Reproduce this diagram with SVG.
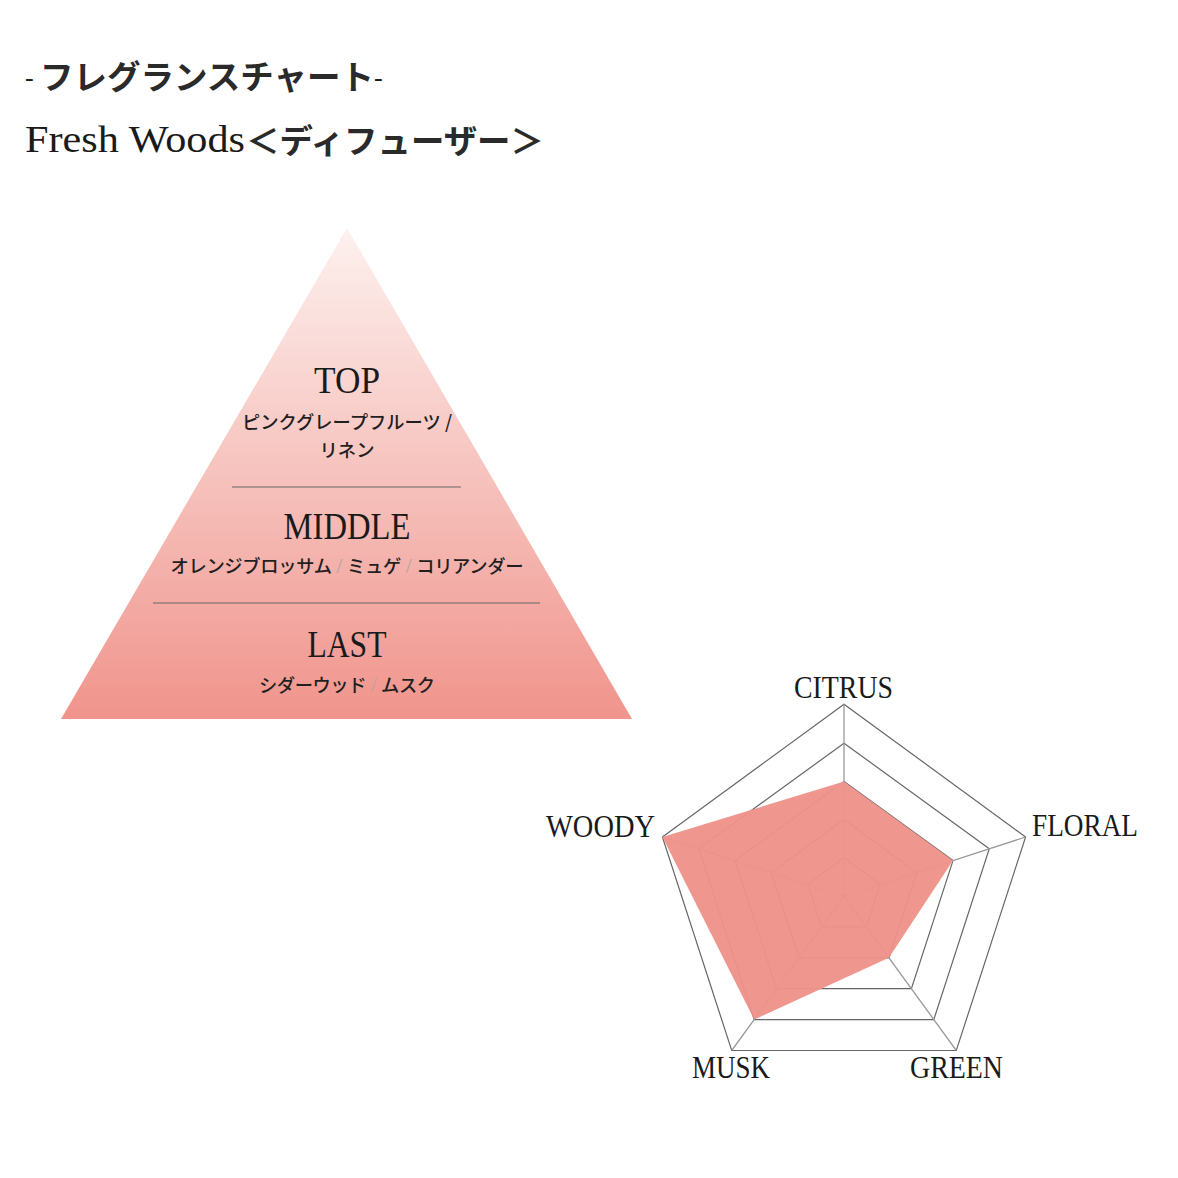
<svg xmlns="http://www.w3.org/2000/svg" width="1178" height="1178" viewBox="0 0 1178 1178">
  <style>
    .jp { font-family: "Noto Sans CJK JP", "Noto Sans", sans-serif; fill: #2a2a2a; }
    .ttl { font-size: 33.5px; font-weight: 700; }
    .note { font-size: 18.3px; font-weight: 500; text-anchor: middle; fill: #1f1f1f; }
    .sl { font-family: "Liberation Serif", serif; font-weight: 400; fill: #b5a3a0; font-size: 21px; }
    .serif { font-family: "Liberation Serif", "Times New Roman", serif; fill: #1a1a1a; }
    .lvl { font-size: 38px; text-anchor: middle; }
    .ax { font-size: 32px; }
    .ring { fill: none; stroke: #666; stroke-width: 1.2; }
    .spoke { stroke: #9a9a9a; stroke-width: 1.3; }
    .divider { stroke: #666; stroke-width: 1; }
  </style>
  <defs>
    <linearGradient id="pyr" x1="0" y1="0" x2="0" y2="1">
      <stop offset="0" stop-color="#FDF1EF"/>
      <stop offset="1" stop-color="#F0948C"/>
    </linearGradient>
  </defs>
  <rect width="1178" height="1178" fill="#ffffff"/>

  <g id="title">
    <text class="serif" x="25" y="86" font-size="26" fill="#333">-</text>
    <text class="jp ttl" x="40" y="89">フレグランスチャート</text>
    <text class="serif" x="374" y="86" font-size="26" fill="#333">-</text>
    <text class="serif" x="25" y="152" font-size="38" fill="#2a2a2a" textLength="220" lengthAdjust="spacingAndGlyphs">Fresh Woods</text>
    <text class="jp ttl" x="246" y="153" textLength="298" lengthAdjust="spacingAndGlyphs">＜ディフューザー＞</text>
  </g>

  <g id="pyramid">
    <polygon points="347,228 632,719 61,719" fill="url(#pyr)"/>
    <line class="divider" x1="232" y1="487" x2="461" y2="487"/>
    <line class="divider" x1="153" y1="603" x2="540" y2="603"/>
    <g id="top-notes">
      <text class="serif lvl" x="347" y="393" textLength="66" lengthAdjust="spacingAndGlyphs">TOP</text>
      <text class="jp note" x="347" y="429">ピンクグレープフルーツ /</text>
      <text class="jp note" x="347" y="457">リネン</text>
    </g>
    <g id="middle-notes">
      <text class="serif lvl" x="347" y="539" textLength="127" lengthAdjust="spacingAndGlyphs">MIDDLE</text>
      <text class="jp note" x="347" y="573" textLength="353" lengthAdjust="spacing">オレンジブロッサム<tspan class="sl"> / </tspan>ミュゲ<tspan class="sl"> / </tspan>コリアンダー</text>
    </g>
    <g id="last-notes">
      <text class="serif lvl" x="347" y="657" textLength="79" lengthAdjust="spacingAndGlyphs">LAST</text>
      <text class="jp note" x="347" y="692" textLength="176" lengthAdjust="spacing">シダーウッド<tspan class="sl"> / </tspan>ムスク</text>
    </g>
  </g>

  <g id="radar">
    <g id="grid">
      <polygon class="ring" points="844,704.2 1025.6,837 956.3,1050.5 731.7,1050.5 662.4,837"/>
      <polygon class="ring" points="844,743.2 989.3,848.8 933.8,1019.6 754.2,1019.6 698.7,848.8"/>
      <polygon class="ring" points="844,781.4 953,860.6 911.4,988.7 776.6,988.7 735,860.6"/>
      <polygon class="ring" points="844,819.6 916.7,872.4 888.9,957.8 799.1,957.8 771.3,872.4"/>
      <polygon class="ring" points="844,857.8 880.3,884.2 866.5,926.9 821.5,926.9 807.7,884.2"/>
    </g>
    <g id="connectors">
      <line class="spoke" x1="844" y1="896" x2="844" y2="704.2"/>
      <line class="spoke" x1="844" y1="896" x2="1025.6" y2="837"/>
      <line class="spoke" x1="844" y1="896" x2="956.3" y2="1050.5"/>
      <line class="spoke" x1="844" y1="896" x2="731.7" y2="1050.5"/>
      <line class="spoke" x1="844" y1="896" x2="662.4" y2="837"/>
    </g>
    <polygon id="data" points="844,781.4 953,860.6 888.9,957.8 754.2,1019.6 662.4,837" fill="#EE928A" fill-opacity="0.96"/>
    <g id="labels">
      <text id="lbl-citrus" class="serif ax" x="794" y="698" textLength="99" lengthAdjust="spacingAndGlyphs">CITRUS</text>
      <text id="lbl-floral" class="serif ax" x="1032" y="836" textLength="106" lengthAdjust="spacingAndGlyphs">FLORAL</text>
      <text id="lbl-green" class="serif ax" x="910" y="1078" textLength="93" lengthAdjust="spacingAndGlyphs">GREEN</text>
      <text id="lbl-musk" class="serif ax" x="692" y="1078" textLength="78" lengthAdjust="spacingAndGlyphs">MUSK</text>
      <text id="lbl-woody" class="serif ax" x="546" y="837" textLength="109" lengthAdjust="spacingAndGlyphs">WOODY</text>
    </g>
  </g>
</svg>
